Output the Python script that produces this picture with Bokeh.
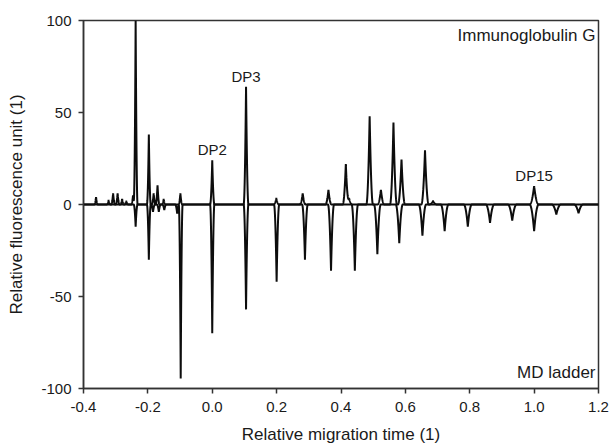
import numpy as np
from bokeh.plotting import figure
from bokeh.models import FixedTicker
from bokeh.core.properties import value
from bokeh.embed import file_html
from bokeh.resources import INLINE

# Upper trace: Immunoglobulin G peaks (relative migration time, fluorescence)
igg_x = [-0.361, -0.322, -0.308, -0.294, -0.280, -0.267, -0.246, -0.238,
         -0.197, -0.182, -0.170, -0.151, -0.099, 0.000, 0.105, 0.199,
         0.281, 0.361, 0.415, 0.425, 0.489, 0.524, 0.563, 0.588, 0.661,
         0.686, 1.000]
igg_h = [4, 2.5, 6, 6, 3, 2, 5, 100,
         38, 6, 10.5, 3, 6, 24, 64, 3.5,
         6, 8, 22, 3.5, 48, 8, 44.5, 24.5, 29.5,
         2, 10]

# Lower (mirrored) trace: MD ladder peaks
lad_x = [-0.238, -0.197, -0.184, -0.166, -0.149, -0.109, -0.098, 0.000,
         0.105, 0.200, 0.288, 0.369, 0.443, 0.513, 0.581, 0.653, 0.722,
         0.794, 0.863, 0.932, 1.000, 1.069, 1.138]
lad_h = [-12, -30, -4, -4, -3, -5, -94.6, -70,
         -57, -42, -30, -36, -36, -27, -21, -17, -14.5,
         -12, -10, -8.7, -14.5, -5.4, -4.7]

dp_labels = ["DP2", "DP3", "DP15"]
dp_x = [0.000, 0.105, 1.000]

x_ticks = [-0.4, -0.2, 0.0, 0.2, 0.4, 0.6, 0.8, 1.0, 1.2]
x_tick_labels = ["-0.4", "-0.2", "0.0", "0.2", "0.4", "0.6", "0.8", "1.0", "1.2"]
y_ticks = [-100, -50, 0, 50, 100]
y_tick_labels = ["-100", "-50", "0", "50", "100"]

FONT = "Liberation Sans"
INK = "#1a1a1a"


def trace(px, ph):
    """Render a list of peaks as a continuous electropherogram line."""
    px = np.asarray(px, float)
    ph = np.asarray(ph, float)
    xs = np.union1d(np.arange(-0.4, 1.2001, 0.0004), px)
    ys = np.zeros_like(xs)
    for xi, hi in zip(px, ph):
        w = 0.006 + 0.008 * np.clip((xi + 0.1) / 1.1, 0, 1)
        u = np.abs(xs - xi) / w
        ys += hi * np.clip(1 - u, 0, None) ** 2
    return xs, ys


p = figure(frame_width=515, frame_height=368,
           x_range=(-0.4, 1.2), y_range=(-100, 100),
           output_backend="svg", toolbar_location=None,
           min_border_left=83, min_border_top=20,
           min_border_right=12, min_border_bottom=0,
           background_fill_color="white", border_fill_color="white")

xs, ys = trace(igg_x, igg_h)
p.line(xs, ys, line_color="#0d0d0d", line_width=2.0)
xs2, ys2 = trace(lad_x, lad_h)
p.line(xs2, ys2, line_color="#0d0d0d", line_width=2.0)

dp_y = [igg_h[igg_x.index(v)] for v in dp_x]
p.text(x=dp_x, y=dp_y, text=dp_labels, text_align="center",
       text_baseline="alphabetic", y_offset=-10.5,
       text_font=value(FONT), text_font_size="15px", text_color=INK)

p.text(x=[1.2], y=[100], text=["Immunoglobulin G"], text_align="right",
       text_baseline="alphabetic", x_offset=-3, y_offset=14.5,
       text_font=value(FONT), text_font_size="17px", text_color=INK)
p.text(x=[1.2], y=[-100], text=["MD ladder"], text_align="right",
       text_baseline="alphabetic", x_offset=-3, y_offset=-16,
       text_font=value(FONT), text_font_size="17px", text_color=INK)

p.xgrid.visible = False
p.ygrid.visible = False
p.outline_line_color = "#333333"
p.outline_line_width = 1.5

p.xaxis.ticker = FixedTicker(ticks=x_ticks)
p.xaxis.major_label_overrides = dict(zip(x_ticks, x_tick_labels))
p.yaxis.ticker = FixedTicker(ticks=y_ticks)
p.yaxis.major_label_overrides = dict(zip(y_ticks, y_tick_labels))

p.xaxis.axis_label = "Relative migration time (1)"
p.yaxis.axis_label = "Relative fluorescence unit (1)"

for ax in (p.xaxis[0], p.yaxis[0]):
    ax.axis_line_color = "#333333"
    ax.axis_line_width = 1.5
    ax.major_tick_line_color = "#333333"
    ax.major_tick_line_width = 1.5
    ax.major_tick_out = 5
    ax.major_tick_in = 0
    ax.minor_tick_line_color = None
    ax.major_label_text_font = FONT
    ax.major_label_text_font_size = "15px"
    ax.major_label_text_color = INK
    ax.axis_label_text_font = FONT
    ax.axis_label_text_font_style = "normal"
    ax.axis_label_text_font_size = "17px"
    ax.axis_label_text_color = INK

p.xaxis.major_label_standoff = 8
p.xaxis.axis_label_standoff = 10
p.yaxis.major_label_standoff = 7
p.yaxis.axis_label_standoff = 12

open("out.html", "w").write(file_html(p, INLINE))
